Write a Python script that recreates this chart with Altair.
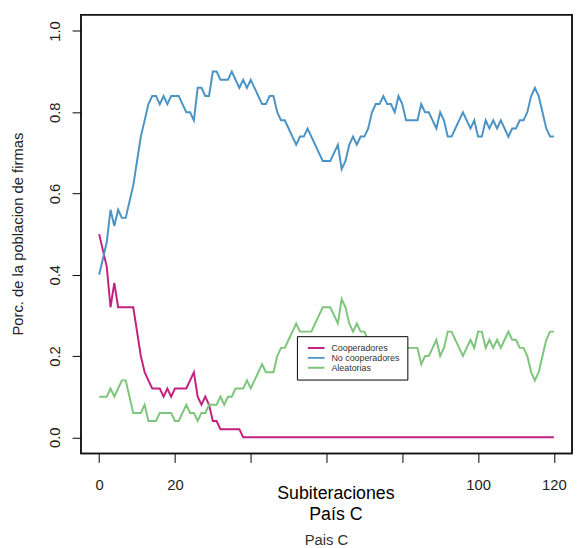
import altair as alt
import pandas as pd

subiteraciones = list(range(121))

cooperadores = [
    0.50, 0.46, 0.42, 0.32, 0.38, 0.32, 0.32, 0.32, 0.32, 0.32,
    0.26, 0.20, 0.16, 0.14, 0.12, 0.12, 0.12, 0.10, 0.12, 0.10,
    0.12, 0.12, 0.12, 0.12, 0.14, 0.16, 0.10, 0.08, 0.10, 0.08,
    0.04, 0.04, 0.02, 0.02, 0.02, 0.02, 0.02, 0.02, 0.00, 0.00,
    0.00, 0.00, 0.00, 0.00, 0.00, 0.00, 0.00, 0.00, 0.00, 0.00,
    0.00, 0.00, 0.00, 0.00, 0.00, 0.00, 0.00, 0.00, 0.00, 0.00,
    0.00, 0.00, 0.00, 0.00, 0.00, 0.00, 0.00, 0.00, 0.00, 0.00,
    0.00, 0.00, 0.00, 0.00, 0.00, 0.00, 0.00, 0.00, 0.00, 0.00,
    0.00, 0.00, 0.00, 0.00, 0.00, 0.00, 0.00, 0.00, 0.00, 0.00,
    0.00, 0.00, 0.00, 0.00, 0.00, 0.00, 0.00, 0.00, 0.00, 0.00,
    0.00, 0.00, 0.00, 0.00, 0.00, 0.00, 0.00, 0.00, 0.00, 0.00,
    0.00, 0.00, 0.00, 0.00, 0.00, 0.00, 0.00, 0.00, 0.00, 0.00,
    0.00,
]

no_cooperadores = [
    0.40, 0.44, 0.48, 0.56, 0.52, 0.56, 0.54, 0.54, 0.58, 0.62,
    0.68, 0.74, 0.78, 0.82, 0.84, 0.84, 0.82, 0.84, 0.82, 0.84,
    0.84, 0.84, 0.82, 0.80, 0.80, 0.78, 0.86, 0.86, 0.84, 0.84,
    0.90, 0.90, 0.88, 0.88, 0.88, 0.90, 0.88, 0.86, 0.88, 0.86,
    0.88, 0.86, 0.84, 0.82, 0.82, 0.84, 0.84, 0.80, 0.78, 0.78,
    0.76, 0.74, 0.72, 0.74, 0.74, 0.76, 0.74, 0.72, 0.70, 0.68,
    0.68, 0.68, 0.70, 0.72, 0.66, 0.68, 0.72, 0.74, 0.72, 0.74,
    0.74, 0.76, 0.80, 0.82, 0.82, 0.84, 0.82, 0.82, 0.80, 0.84,
    0.82, 0.78, 0.78, 0.78, 0.78, 0.82, 0.80, 0.80, 0.78, 0.76,
    0.80, 0.78, 0.74, 0.74, 0.76, 0.78, 0.80, 0.78, 0.76, 0.78,
    0.74, 0.74, 0.78, 0.76, 0.78, 0.76, 0.78, 0.76, 0.74, 0.76,
    0.76, 0.78, 0.78, 0.80, 0.84, 0.86, 0.84, 0.80, 0.76, 0.74,
    0.74,
]

aleatorias = [
    0.10, 0.10, 0.10, 0.12, 0.10, 0.12, 0.14, 0.14, 0.10, 0.06,
    0.06, 0.06, 0.08, 0.04, 0.04, 0.04, 0.06, 0.06, 0.06, 0.06,
    0.04, 0.04, 0.06, 0.08, 0.06, 0.06, 0.04, 0.06, 0.06, 0.08,
    0.08, 0.08, 0.10, 0.08, 0.10, 0.10, 0.12, 0.12, 0.12, 0.14,
    0.12, 0.14, 0.16, 0.18, 0.16, 0.16, 0.16, 0.20, 0.22, 0.22,
    0.24, 0.26, 0.28, 0.26, 0.26, 0.26, 0.26, 0.28, 0.30, 0.32,
    0.32, 0.32, 0.30, 0.28, 0.34, 0.32, 0.28, 0.26, 0.28, 0.26,
    0.26, 0.24, 0.20, 0.18, 0.18, 0.16, 0.18, 0.18, 0.20, 0.16,
    0.18, 0.22, 0.22, 0.22, 0.22, 0.18, 0.20, 0.20, 0.22, 0.24,
    0.20, 0.22, 0.26, 0.26, 0.24, 0.22, 0.20, 0.22, 0.24, 0.22,
    0.26, 0.26, 0.22, 0.24, 0.22, 0.24, 0.22, 0.24, 0.26, 0.24,
    0.24, 0.22, 0.22, 0.20, 0.16, 0.14, 0.16, 0.20, 0.24, 0.26,
    0.26,
]

series_names = ["Cooperadores", "No cooperadores", "Aleatorias"]
series_colors = ["#C4217E", "#4B93C4", "#7DC57A"]
x_ticks = [0, 20, 40, 60, 80, 100, 120]
y_ticks = [0.0, 0.2, 0.4, 0.6, 0.8, 1.0]
x_limits = [-4.8, 124.8]
y_limits = [-0.04, 1.04]

frames = []
for name, vals in zip(series_names, [cooperadores, no_cooperadores, aleatorias]):
    frames.append(pd.DataFrame({"it": subiteraciones, "val": vals, "serie": name}))
df = pd.concat(frames, ignore_index=True)

box_df = pd.DataFrame({"x0": [x_limits[0]], "x1": [x_limits[1]],
                       "y0": [y_limits[0]], "y1": [y_limits[1]]})

FONT = "Liberation Sans"
W, H = 498, 445

x_scale = alt.Scale(domain=x_limits, nice=False, zero=False)
y_scale = alt.Scale(domain=y_limits, nice=False, zero=False)

lines = (
    alt.Chart(df)
    .mark_line(strokeWidth=2)
    .encode(
        x=alt.X(
            "it:Q",
            scale=x_scale,
            axis=alt.Axis(
                values=x_ticks,
                labelExpr="(datum.value == 40 || datum.value == 60 || datum.value == 80) ? '' : datum.label",
                grid=False,
                domain=False,
                tickSize=9,
                tickColor="black",
                labelPadding=15,
                labelFontSize=15,
                labelColor="#222",
                labelFont=FONT,
                title=["Subiteraciones", "País C"],
                titleFont=FONT,
                titleFontSize=18,
                titleFontWeight="normal",
                titleColor="black",
                titleX=258,
                titleY=46,
                titleAlign="center",
                titleBaseline="alphabetic",
                titleLineHeight=21,
            ),
        ),
        y=alt.Y(
            "val:Q",
            scale=y_scale,
            axis=alt.Axis(
                values=y_ticks,
                format=".1f",
                grid=False,
                domain=False,
                tickSize=9,
                tickColor="black",
                labelAngle=270,
                labelAlign="center",
                labelBaseline="middle",
                labelPadding=18,
                labelFontSize=15,
                labelColor="#222",
                labelFont=FONT,
                title="Porc. de la poblacion de firmas",
                titleFont=FONT,
                titleFontSize=15,
                titleFontWeight="normal",
                titleColor="#222",
                titleAngle=270,
                titleX=-64,
                titleY=222,
                titleAlign="center",
                titleBaseline="middle",
            ),
        ),
        color=alt.Color(
            "serie:N",
            scale=alt.Scale(domain=series_names, range=series_colors),
            legend=alt.Legend(
                title=None,
                orient="none",
                legendX=219,
                legendY=326,
                fillColor="white",
                strokeColor="black",
                padding=7,
                symbolType="stroke",
                symbolSize=289,
                symbolStrokeWidth=2,
                symbolOffset=3,
                labelFont=FONT,
                labelFontSize=9,
                labelColor="#333",
                labelOffset=6,
                clipHeight=10,
                rowPadding=0,
            ),
        ),
    )
)

box = (
    alt.Chart(box_df)
    .mark_rect(fillOpacity=0, stroke="#111", strokeWidth=1.5)
    .encode(
        x=alt.X("x0:Q", scale=x_scale),
        x2="x1:Q",
        y=alt.Y("y0:Q", scale=y_scale),
        y2="y1:Q",
    )
)

chart = (
    alt.layer(lines, box)
    .properties(
        width=W,
        height=H,
        autosize=alt.AutoSizeParams(type="none"),
        padding={"left": 74, "top": 3, "right": 3, "bottom": 92},
        background="white",
        title=alt.TitleParams(
            "Pais C",
            orient="bottom",
            anchor="middle",
            frame="group",
            font=FONT,
            fontSize=15,
            fontWeight="normal",
            color="#333",
            offset=10,
        ),
    )
    .configure_view(stroke="#111", strokeWidth=1.5)
)

chart.save("out.html", embed_options={"renderer": "svg", "actions": False})
